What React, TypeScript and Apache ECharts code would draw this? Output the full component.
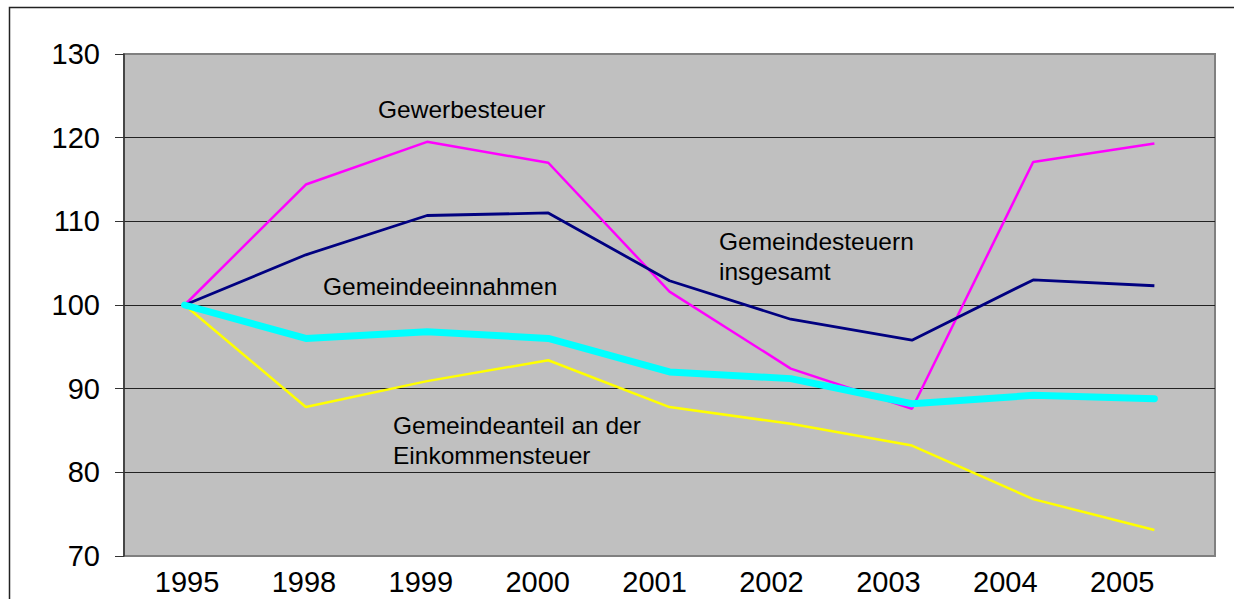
import React, { useEffect, useRef } from "react";
import * as echarts from "echarts";

const years = ["1995", "1998", "1999", "2000", "2001", "2002", "2003", "2004", "2005"];
const gewerbesteuer = [100, 114.4, 119.5, 117.0, 101.6, 92.4, 87.6, 117.1, 119.3];
const gemeindesteuern = [100, 106.0, 110.7, 111.0, 102.9, 98.3, 95.8, 103.0, 102.3];
const gemeindeanteil = [100, 87.8, 90.9, 93.4, 87.8, 85.8, 83.2, 76.8, 73.1];
const gemeindeeinnahmen = [100, 96.0, 96.8, 96.0, 92.0, 91.2, 88.2, 89.2, 88.8];
const yTicks = { min: 70, max: 130, interval: 10 };

const FONT = "'Liberation Sans', Arial, sans-serif";

export default function App() {
  const ref = useRef<HTMLDivElement>(null);
  useEffect(() => {
    if (!ref.current) return;
    const chart = echarts.init(ref.current, null, { renderer: "svg" });
    const txt = (text: string, x: number, y: number) => ({
      type: "text",
      x,
      y,
      z: 100,
      style: {
        text,
        fill: "#000",
        font: `24.5px ${FONT}`,
        align: "left",
        verticalAlign: "middle",
      },
    });
    chart.setOption({
      animation: false,
      backgroundColor: "#fff",
      textStyle: { fontFamily: FONT },
      grid: [
        {
          left: 124,
          top: 54,
          right: 19,
          bottom: 43,
          show: true,
          backgroundColor: "#C0C0C0",
          borderColor: "#808080",
          borderWidth: 2,
        },
        { left: 128.6, top: 54, right: 53.4, bottom: 43, show: false },
      ],
      xAxis: [
        {
          type: "category",
          gridIndex: 0,
          data: years,
          boundaryGap: true,
          axisLine: { show: false },
          axisTick: { show: false },
          axisLabel: { show: false },
        },
        {
          type: "category",
          gridIndex: 1,
          data: years,
          boundaryGap: true,
          axisLine: { show: false },
          axisTick: { show: false },
          axisLabel: { show: true, margin: 11, fontSize: 29, color: "#000", fontFamily: FONT },
        },
      ],
      yAxis: [
        {
          type: "value",
          gridIndex: 0,
          min: yTicks.min,
          max: yTicks.max,
          interval: yTicks.interval,
          axisLine: { show: true, lineStyle: { color: "#333", width: 1.5 } },
          axisTick: { show: true, length: 9, lineStyle: { color: "#333", width: 1 } },
          axisLabel: { margin: 24, fontSize: 29, color: "#000", fontFamily: FONT },
          splitLine: {
            show: true,
            showMinLine: false,
            showMaxLine: false,
            lineStyle: { color: "#222", width: 1 },
          },
        },
        { type: "value", gridIndex: 1, show: false },
      ],
      series: [
        {
          name: "Gewerbesteuer",
          type: "line",
          data: gewerbesteuer,
          symbol: "none",
          lineStyle: { color: "#FF00FF", width: 2.5 },
        },
        {
          name: "Gemeindesteuern insgesamt",
          type: "line",
          data: gemeindesteuern,
          symbol: "none",
          lineStyle: { color: "#000080", width: 2.8 },
        },
        {
          name: "Gemeindeanteil an der Einkommensteuer",
          type: "line",
          data: gemeindeanteil,
          symbol: "none",
          lineStyle: { color: "#FFFF00", width: 2.5 },
        },
        {
          name: "Gemeindeeinnahmen",
          type: "line",
          data: gemeindeeinnahmen,
          symbol: "none",
          lineStyle: { color: "#00FFFF", width: 7, cap: "round", join: "round" },
        },
      ],
      graphic: [
        {
          type: "rect",
          shape: { x: 9.5, y: 7.5, width: 1300, height: 700 },
          style: { fill: "none", stroke: "#222", lineWidth: 1.5 },
          silent: true,
        },
        txt("Gewerbesteuer", 378, 109),
        txt("Gemeindeeinnahmen", 323, 286),
        txt("Gemeindesteuern", 719, 241.5),
        txt("insgesamt", 719, 271.5),
        txt("Gemeindeanteil an der", 393, 425),
        txt("Einkommensteuer", 393, 455),
      ],
    });
    return () => chart.dispose();
  }, []);
  return (
    <div
      ref={ref}
      style={{ position: "absolute", left: 0, top: 0, width: 1234, height: 599 }}
    />
  );
}
